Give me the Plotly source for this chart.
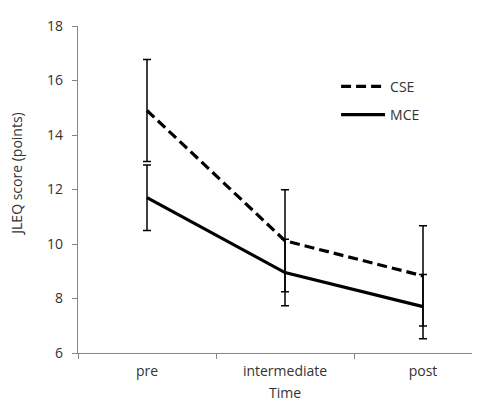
import plotly.graph_objects as go

categories = ["pre", "intermediate", "post"]
cse_mean = [14.9, 10.12, 8.83]
cse_err = [1.87, 1.87, 1.84]
mce_mean = [11.7, 8.95, 7.7]
mce_err = [1.2, 1.22, 1.18]
y_ticks = [6, 8, 10, 12, 14, 16, 18]

FONT = "Open Sans"
TXT = "#333333"
AX = "#868686"

fig = go.Figure()
fig.add_trace(go.Scatter(
    x=categories, y=cse_mean, name="CSE", mode="lines",
    line=dict(color="black", width=3.2, dash="10px,5px"),
    error_y=dict(type="data", array=cse_err, visible=True, color="black",
                 thickness=1.5, width=4),
    legendgroup="a",
))
fig.add_trace(go.Scatter(
    x=categories, y=mce_mean, name="MCE", mode="lines",
    line=dict(color="black", width=3.2),
    error_y=dict(type="data", array=mce_err, visible=True, color="black",
                 thickness=1.5, width=4),
    legendgroup="b",
))

fig.update_layout(
    width=480, height=403,
    margin=dict(l=70, r=8, t=15, b=58),
    plot_bgcolor="white", paper_bgcolor="white",
    font=dict(family=FONT, size=14, color=TXT),
    showlegend=True,
    legend=dict(x=0.642, y=0.863, xanchor="left", yanchor="top",
                bgcolor="rgba(0,0,0,0)", itemwidth=44,
                tracegroupgap=7, traceorder="grouped",
                font=dict(family=FONT, size=14, color=TXT)),
    xaxis=dict(
        type="category", range=[-0.5, 2.413],
        showline=True, linecolor=AX, linewidth=1.3,
        ticks="outside", ticklen=5, tickcolor=AX, tickwidth=1.3,
        tickson="boundaries", showgrid=False, zeroline=False,
        ticklabelstandoff=5,
    ),
    yaxis=dict(
        range=[6, 18], tickvals=y_ticks,
        showline=True, linecolor=AX, linewidth=1.3,
        ticks="outside", ticklen=5, tickcolor=AX, tickwidth=1.3,
        showgrid=False, zeroline=False, ticklabelstandoff=6,
    ),
    annotations=[
        dict(text="Time", xref="paper", yref="paper",
             x=0.515, y=-0.122, xanchor="center", yanchor="middle", showarrow=False,
             font=dict(family=FONT, size=14, color=TXT)),
        dict(text="JLEQ score (points)", textangle=-90, xref="paper", yref="paper",
             x=-0.152, y=0.548, xanchor="center", yanchor="middle", showarrow=False,
             font=dict(family=FONT, size=14, color=TXT)),
    ],
)

fig.write_html("out.html")
